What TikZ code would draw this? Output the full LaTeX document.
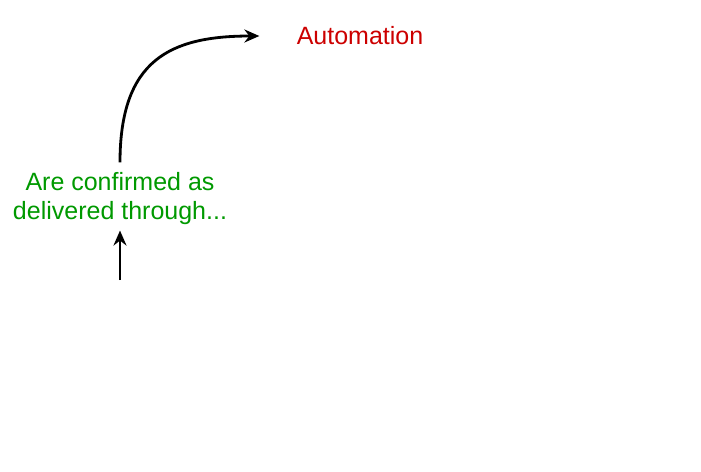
\documentclass[tikz,border=0pt]{standalone}
\usepackage{fontspec}
\setmainfont{Liberation Sans}
\usepackage{tikz}
\usetikzlibrary{arrows.meta}

\definecolor{autored}{RGB}{204,0,0}
\definecolor{confgreen}{RGB}{0,153,0}

\begin{document}
\begin{tikzpicture}[x=1pt,y=-1pt,->,>={Stealth[length=15pt,width=13pt,inset=5pt]},line width=2.8pt,
  label text/.style={font=\fontsize{25}{29}\selectfont,align=center,inner sep=0pt}]

  \useasboundingbox (0,0) rectangle (701,471);

  \node[label text,text=autored] (auto) at (360,36) {Automation};
  \node[label text,text=confgreen] (conf) at (120,199) {Are confirmed as\\delivered through...};
  \coordinate (start) at (120,280);

  \draw[shorten >=4pt] (start) -- (conf.south);
  \draw[shorten <=9pt,shorten >=36pt] (conf.north) .. controls (120,60) and (170,36) .. (auto.west);

\end{tikzpicture}
\end{document}
